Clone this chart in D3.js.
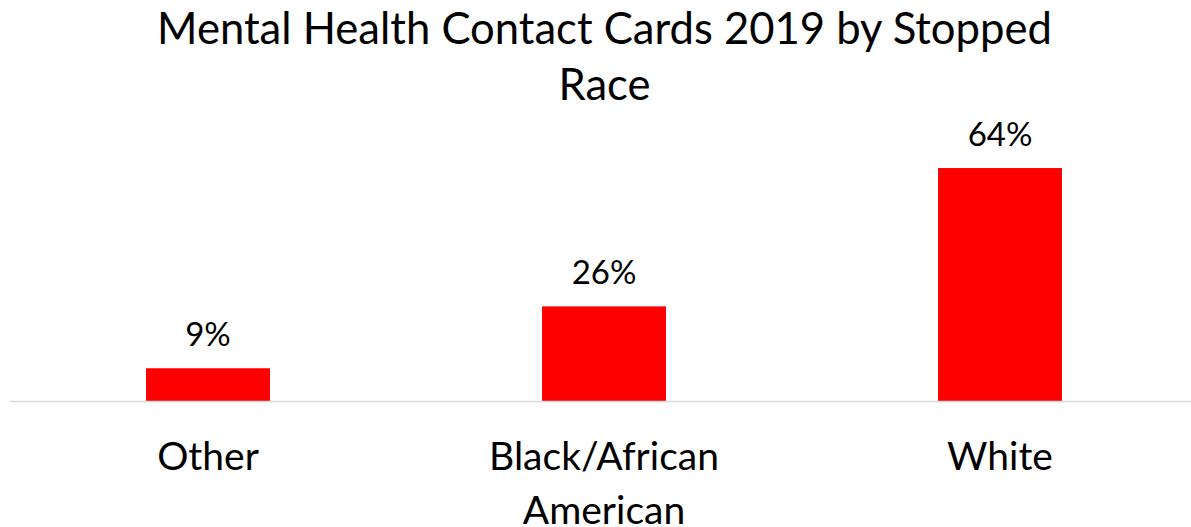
<!DOCTYPE html>
<html>
<head>
<meta charset="utf-8">
<script src="https://cdn.jsdelivr.net/npm/d3@7"></script>
<style>
  body { margin: 0; background: #fff; }
  text { font-family: Lato, "Open Sans", sans-serif; fill: #000; }
</style>
</head>
<body>
<div id="chart"></div>
<script>
// chart data
var categories = ["Other", "Black/African American", "White"];
var labelLines = [["Other"], ["Black/African", "American"], ["White"]];
var values = [0.09, 0.26, 0.64];
var titleLines = ["Mental Health Contact Cards 2019 by Stopped", "Race"];

const W = 1191, H = 527;
const baseY = 401;

var svg = d3.select("#chart").append("svg")
    .attr("width", W)
    .attr("height", H);

var x = d3.scaleBand()
    .domain(categories)
    .range([10, 1198])
    .paddingInner(0.687)
    .paddingOuter(0.3435);

var y = d3.scaleLinear()
    .domain([0, 0.7])
    .range([baseY, baseY - 254.8]);

// title
svg.append("g").selectAll("text")
    .data(titleLines)
    .join("text")
    .attr("x", 604.5)
    .attr("y", function(d, i) { return 44 + i * 56; })
    .attr("text-anchor", "middle")
    .style("font-size", "43.6px")
    .text(function(d) { return d; });

// bars
svg.append("g").selectAll("rect")
    .data(values)
    .join("rect")
    .attr("x", function(d, i) { return x(categories[i]); })
    .attr("width", x.bandwidth())
    .attr("y", function(d) { return y(d); })
    .attr("height", function(d) { return y(0) - y(d); })
    .attr("fill", "#ff0000");

// axis line
svg.append("line")
    .attr("x1", 10).attr("x2", W)
    .attr("y1", baseY + 0.5).attr("y2", baseY + 0.5)
    .attr("stroke", "#d9d9d9")
    .attr("stroke-width", 1.5);

// value labels
svg.append("g").selectAll("text")
    .data(values)
    .join("text")
    .attr("x", function(d, i) { return x(categories[i]) + x.bandwidth() / 2; })
    .attr("y", function(d) { return y(d) - 22; })
    .attr("text-anchor", "middle")
    .style("font-size", "33px")
    .text(function(d) { return d3.format(".0%")(d); });

// category labels (second line is cut by the bottom edge, as in the original)
var cat = svg.append("g").selectAll("text")
    .data(labelLines)
    .join("text")
    .attr("text-anchor", "middle")
    .style("font-size", "39px")
    .attr("transform", function(d, i) {
        return "translate(" + (x(categories[i]) + x.bandwidth() / 2) + ",470)";
    });

cat.selectAll("tspan")
    .data(function(d) { return d; })
    .join("tspan")
    .attr("x", 0)
    .attr("y", function(d, i) { return i * 54; })
    .text(function(d) { return d; });
</script>
</body>
</html>
